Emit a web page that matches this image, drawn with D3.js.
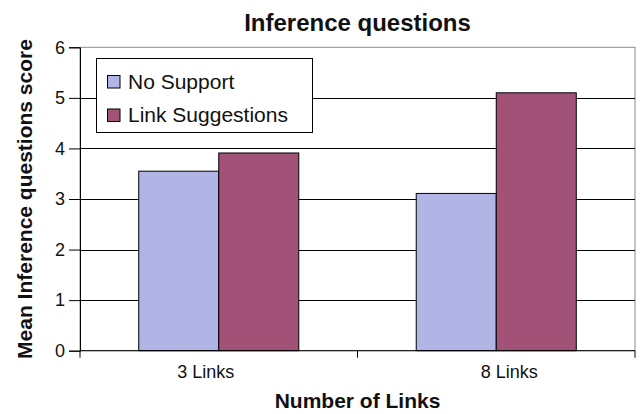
<!DOCTYPE html>
<html>
<head>
<meta charset="utf-8">
<script src="https://cdn.jsdelivr.net/npm/d3@7/dist/d3.min.js"></script>
<style>
  html, body { margin: 0; padding: 0; background: #fff; }
  svg { display: block; font-family: "Liberation Sans", Arial, sans-serif; }
</style>
</head>
<body>
<svg id="chart" width="644" height="414"></svg>
<script>
const categories = ["3 Links", "8 Links"];
const seriesNames = ["No Support", "Link Suggestions"];
const noSupport = [3.55, 3.11];
const linkSuggestions = [3.91, 5.10];
const yTicks = [0, 1, 2, 3, 4, 5, 6];
const colors = ["#B0B5E6", "#A35277"];

(function () {
const svg = d3.select("#chart");
const pLeft = 80, pRight = 635, pTop = 47.3, pBottom = 350.7;

const x0 = d3.scaleBand().domain(categories).range([pLeft, pRight]).paddingInner(0).paddingOuter(0);
const x1 = d3.scaleBand().domain(seriesNames).range([0, x0.bandwidth()]).paddingInner(0).paddingOuter(0.734);
const y = d3.scaleLinear().domain([0, 6]).range([pBottom, pTop]);

const seriesData = [noSupport, linkSuggestions];

// plot area border (grey top/right)
svg.append("rect")
  .attr("x", pLeft).attr("y", pTop)
  .attr("width", pRight - pLeft).attr("height", pBottom - pTop)
  .attr("fill", "#fff").attr("stroke", "#8c8c8c").attr("stroke-width", 1);

// gridlines
svg.append("g").selectAll("line")
  .data(yTicks.filter(t => t > 0 && t < 6))
  .join("line")
  .attr("x1", pLeft).attr("x2", pRight)
  .attr("y1", d => Math.round(y(d)) + 0.5).attr("y2", d => Math.round(y(d)) + 0.5)
  .attr("stroke", "#000").attr("stroke-width", 1);

// bars
const groups = svg.append("g").selectAll("g")
  .data(categories)
  .join("g")
  .attr("transform", d => `translate(${x0(d)},0)`);

groups.selectAll("rect")
  .data((c, i) => seriesNames.map((s, k) => ({ s, k, v: seriesData[k][i] })))
  .join("rect")
  .attr("x", d => x1(d.s))
  .attr("width", x1.bandwidth())
  .attr("y", d => y(d.v))
  .attr("height", d => y(0) - y(d.v))
  .attr("fill", d => colors[d.k])
  .attr("stroke", "#000").attr("stroke-width", 1);

// y axis
const yAxis = svg.append("g")
  .attr("transform", `translate(${pLeft},0)`)
  .call(d3.axisLeft(y).tickValues(yTicks).tickFormat(d3.format("d")).tickSize(11).tickPadding(4));
yAxis.select(".domain").attr("stroke", "#000");
yAxis.selectAll(".tick line").attr("stroke", "#000");
yAxis.selectAll("text").attr("font-size", 18).attr("fill", "#111")
  .attr("font-family", "'Liberation Sans', Arial, sans-serif");

// x axis
const xAxis = svg.append("g")
  .attr("transform", `translate(0,${pBottom})`)
  .call(d3.axisBottom(x0).tickSize(0).tickPadding(0));
xAxis.select(".domain").remove();
xAxis.selectAll(".tick line").remove();
xAxis.selectAll("text")
  .attr("font-size", 18).attr("fill", "#111")
  .attr("dy", null).attr("y", 378 - pBottom)
  .attr("dx", (d, i) => (i - 0.5) * 26)
  .attr("font-family", "'Liberation Sans', Arial, sans-serif");
svg.append("line")
  .attr("x1", pLeft).attr("x2", pRight)
  .attr("y1", pBottom).attr("y2", pBottom)
  .attr("stroke", "#000");
const boundaries = categories.map(c => x0(c)).concat([x0(categories[categories.length - 1]) + x0.bandwidth()]);
svg.append("g").selectAll("line")
  .data(boundaries)
  .join("line")
  .attr("x1", d => d).attr("x2", d => d)
  .attr("y1", pBottom).attr("y2", pBottom + 7)
  .attr("stroke", "#000");

// title
svg.append("text")
  .attr("x", (pLeft + pRight) / 2).attr("y", 31)
  .attr("text-anchor", "middle")
  .attr("font-size", 24).attr("font-weight", "bold").attr("fill", "#111")
  .text("Inference questions");

// x axis title
svg.append("text")
  .attr("x", (pLeft + pRight) / 2).attr("y", 408)
  .attr("text-anchor", "middle")
  .attr("font-size", 21).attr("font-weight", "bold").attr("fill", "#111")
  .text("Number of Links");

// y axis title
svg.append("text")
  .attr("transform", `translate(32,${(pTop + pBottom) / 2}) rotate(-90)`)
  .attr("text-anchor", "middle")
  .attr("font-size", 21).attr("font-weight", "bold").attr("fill", "#111")
  .text("Mean Inference questions score");

// legend
const legend = svg.append("g");
legend.append("rect")
  .attr("x", 96.5).attr("y", 58.5).attr("width", 216).attr("height", 74)
  .attr("fill", "#fff").attr("stroke", "#000").attr("stroke-width", 1);
const items = legend.selectAll("g.item")
  .data(seriesNames)
  .join("g").attr("class", "item")
  .attr("transform", (d, i) => `translate(0,${i * 33.5})`);
items.append("rect")
  .attr("x", 107.5).attr("y", 75.5).attr("width", 12.5).attr("height", 12.5)
  .attr("fill", (d, i) => colors[i]).attr("stroke", "#000").attr("stroke-width", 1);
items.append("text")
  .attr("x", 128).attr("y", 88.5)
  .attr("font-size", 21).attr("fill", "#111")
  .text(d => d);
})();
</script>
</body>
</html>
